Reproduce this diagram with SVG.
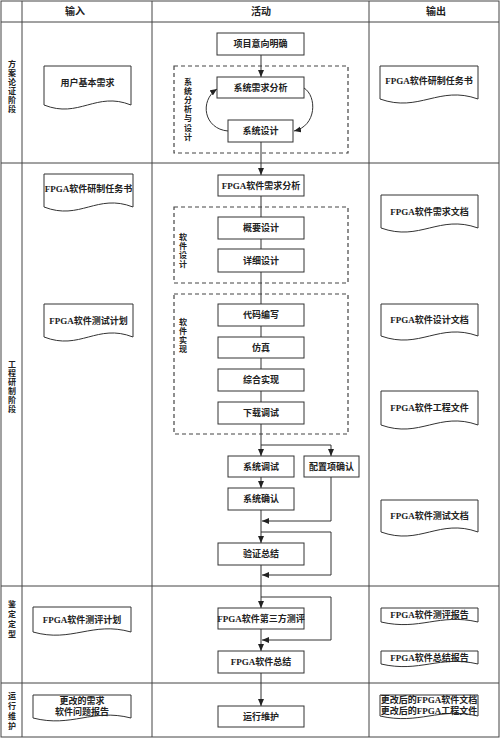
<svg xmlns="http://www.w3.org/2000/svg" width="500" height="739" viewBox="0 0 500 739">
<style>
.t{font-family:"Liberation Serif","Noto Sans CJK SC",serif;font-size:9px;font-weight:bold;fill:#222;text-anchor:middle;dominant-baseline:central}
.h{font-size:10px}
.v{font-size:8px}
.box{fill:#fff;stroke:#333;stroke-width:1}
.doc{fill:#fff;stroke:#333;stroke-width:1}
.dash{fill:none;stroke:#444;stroke-width:1.2;stroke-dasharray:4 3}
.grid{stroke:#444;stroke-width:1;fill:none}
.c{fill:none;stroke:#333;stroke-width:1}
</style>
<defs>
<marker id="ah" markerUnits="userSpaceOnUse" markerWidth="8" markerHeight="7" refX="7" refY="3" orient="auto">
<path d="M0,0 L7,3 L0,6 z" fill="#222"/>
</marker>
</defs>
<rect width="500" height="739" fill="#fff"/>
<g id="table">
<rect class="grid" x="1" y="1" width="498" height="736" stroke-width="1.5"/>
<path class="grid" d="M22 1V737M152 1V737M369 1V737M1 22H499M1 163H499M1 586H499M1 683H499"/>
<text class="t h" x="75" y="11.5">输入</text>
<text class="t h" x="261" y="11.5">活动</text>
<text class="t h" x="436" y="11.5">输出</text>
</g>
<g id="stages">
<g id="stage1"><text class="t v" x="12" y="64">方</text><text class="t v" x="12" y="73">案</text><text class="t v" x="12" y="82">论</text><text class="t v" x="12" y="91">证</text><text class="t v" x="12" y="100">阶</text><text class="t v" x="12" y="109">段</text></g>
<g id="stage2"><text class="t v" x="12" y="364">工</text><text class="t v" x="12" y="373">程</text><text class="t v" x="12" y="382">研</text><text class="t v" x="12" y="391">制</text><text class="t v" x="12" y="400">阶</text><text class="t v" x="12" y="409">段</text></g>
<g id="stage3"><text class="t v" x="12" y="604">鉴</text><text class="t v" x="12" y="614">定</text><text class="t v" x="12" y="624">定</text><text class="t v" x="12" y="634">型</text></g>
<g id="stage4"><text class="t v" x="12" y="696">运</text><text class="t v" x="12" y="706">行</text><text class="t v" x="12" y="716">维</text><text class="t v" x="12" y="726">护</text></g>
</g>
<g id="groups">
<g id="grp-sys"><rect class="dash" x="174" y="66" width="174" height="87"/>
<text class="t v" x="188" y="82">系</text><text class="t v" x="188" y="91.2">统</text><text class="t v" x="188" y="100.4">分</text><text class="t v" x="188" y="109.6">析</text><text class="t v" x="188" y="118.8">与</text><text class="t v" x="188" y="128">设</text><text class="t v" x="188" y="137.2">计</text></g>
<g id="grp-swdesign"><rect class="dash" x="174" y="207" width="174" height="76"/>
<text class="t v" x="183" y="237">软</text><text class="t v" x="183" y="246">件</text><text class="t v" x="183" y="255">设</text><text class="t v" x="183" y="264">计</text></g>
<g id="grp-swimpl"><rect class="dash" x="174" y="294" width="174" height="140"/>
<text class="t v" x="183" y="322">软</text><text class="t v" x="183" y="331.3">件</text><text class="t v" x="183" y="340.6">实</text><text class="t v" x="183" y="349.9">现</text></g>
</g>
<g id="connectors">
<path class="c" d="M261 55V77" marker-end="url(#ah)"/>
<path class="c" d="M304 88C317 96 317 126 294 131" marker-end="url(#ah)"/>
<path class="c" d="M228 131C204 129 199 101 217 89" marker-end="url(#ah)"/>
<path class="c" d="M261 142V175" marker-end="url(#ah)"/>
<path class="c" d="M261 196V217M261 239V249M261 272V304M261 326V337M261 358V369M261 391V402"/>
<path class="c" d="M261 424V456" marker-end="url(#ah)"/>
<path class="c" d="M261 445H331V456" marker-end="url(#ah)"/>
<path class="c" d="M261 477V488" marker-end="url(#ah)"/>
<path class="c" d="M261 510V543" marker-end="url(#ah)"/>
<path class="c" d="M331 477V521H262" marker-end="url(#ah)"/>
<path class="c" d="M261 532H331V575H262" marker-end="url(#ah)"/>
<path class="c" d="M261 565V608" marker-end="url(#ah)"/>
<path class="c" d="M261 597H331V640H262" marker-end="url(#ah)"/>
<path class="c" d="M261 629V651" marker-end="url(#ah)"/>
<path class="c" d="M261 673V706" marker-end="url(#ah)"/>
</g>
<g id="n-xiangmu"><rect class="box" x="217" y="33" width="87" height="22"/><text class="t" x="260.5" y="44">项目意向明确</text></g>
<g id="n-xtxq"><rect class="box" x="217" y="77" width="87" height="21"/><text class="t" x="260.5" y="87.5">系统需求分析</text></g>
<g id="n-xtsj"><rect class="box" x="228" y="120" width="65" height="22"/><text class="t" x="260.5" y="131">系统设计</text></g>
<g id="n-fpgaxq"><rect class="box" x="218" y="175" width="86" height="21"/><text class="t" x="261" y="185.5">FPGA软件需求分析</text></g>
<g id="n-gysj"><rect class="box" x="218" y="217" width="86" height="22"/><text class="t" x="261" y="228">概要设计</text></g>
<g id="n-xxsj"><rect class="box" x="218" y="249" width="86" height="23"/><text class="t" x="261" y="260.5">详细设计</text></g>
<g id="n-dmbx"><rect class="box" x="218" y="304" width="86" height="22"/><text class="t" x="261" y="315">代码编写</text></g>
<g id="n-fz"><rect class="box" x="218" y="337" width="86" height="21"/><text class="t" x="261" y="347.5">仿真</text></g>
<g id="n-zhsx"><rect class="box" x="218" y="369" width="86" height="22"/><text class="t" x="261" y="380">综合实现</text></g>
<g id="n-xzts"><rect class="box" x="218" y="402" width="86" height="22"/><text class="t" x="261" y="413">下载调试</text></g>
<g id="n-xtts"><rect class="box" x="228" y="456" width="66" height="21"/><text class="t" x="261" y="466.5">系统调试</text></g>
<g id="n-pzx"><rect class="box" x="304" y="456" width="55" height="21"/><text class="t" x="331.5" y="466.5">配置项确认</text></g>
<g id="n-xtqr"><rect class="box" x="228" y="488" width="66" height="22"/><text class="t" x="261" y="499">系统确认</text></g>
<g id="n-yzzj"><rect class="box" x="218" y="543" width="86" height="22"/><text class="t" x="261" y="554">验证总结</text></g>
<g id="n-dsf"><rect class="box" x="218" y="608" width="86" height="21"/><text class="t" x="261" y="618.5">FPGA软件第三方测评</text></g>
<g id="n-fpgazj"><rect class="box" x="218" y="651" width="86" height="22"/><text class="t" x="261" y="662">FPGA软件总结</text></g>
<g id="n-yxwh"><rect class="box" x="218" y="706" width="86" height="21"/><text class="t" x="261" y="716.5">运行维护</text></g>
<g id="d-user"><path class="doc" d="M44 66H131V105C96 91 79 119 44 105Z"/><text class="t" x="87.5" y="83">用户基本需求</text></g>
<g id="d-out-task"><path class="doc" d="M380 66H478V99C439 85 419 113 380 99Z"/><text class="t" x="429" y="81">FPGA软件研制任务书</text></g>
<g id="d-in-task"><path class="doc" d="M44 174H133V207C97 193 80 221 44 207Z"/><text class="t" x="88.5" y="189">FPGA软件研制任务书</text></g>
<g id="d-in-test"><path class="doc" d="M44 304H133V337C97 323 80 351 44 337Z"/><text class="t" x="88.5" y="321">FPGA软件测试计划</text></g>
<g id="d-out-req"><path class="doc" d="M381 195H478V228C439 214 420 242 381 228Z"/><text class="t" x="429.5" y="212">FPGA软件需求文档</text></g>
<g id="d-out-design"><path class="doc" d="M381 304H478V336C439 322 420 350 381 336Z"/><text class="t" x="429.5" y="320">FPGA软件设计文档</text></g>
<g id="d-out-proj"><path class="doc" d="M381 391H478V425C439 411 420 439 381 425Z"/><text class="t" x="429.5" y="408">FPGA软件工程文件</text></g>
<g id="d-out-testdoc"><path class="doc" d="M381 500H478V532C439 518 420 546 381 532Z"/><text class="t" x="429.5" y="516">FPGA软件测试文档</text></g>
<g id="d-in-eval"><path class="doc" d="M33 607H131V632C92 621 72 643 33 632Z"/><text class="t" x="82" y="620">FPGA软件测评计划</text></g>
<g id="d-in-change"><path class="doc" d="M33 695H131V718C92 708 72 728 33 718Z"/><text class="t" x="82" y="701">更改的需求</text><text class="t" x="82" y="712">软件问题报告</text></g>
<g id="d-out-eval"><path class="doc" d="M381 608H478V622C439 613 420 631 381 622Z"/><text class="t" x="429.5" y="615">FPGA软件测评报告</text></g>
<g id="d-out-sum"><path class="doc" d="M381 651H478V664C439 655 420 673 381 664Z"/><text class="t" x="429.5" y="658">FPGA软件总结报告</text></g>
<g id="d-out-change"><path class="doc" d="M380 695H478V716C439 707 419 725 380 716Z"/><text class="t" x="429" y="700">更改后的FPGA软件文档</text><text class="t" x="429" y="711">更改后的FPGA工程文件</text></g>
</svg>
